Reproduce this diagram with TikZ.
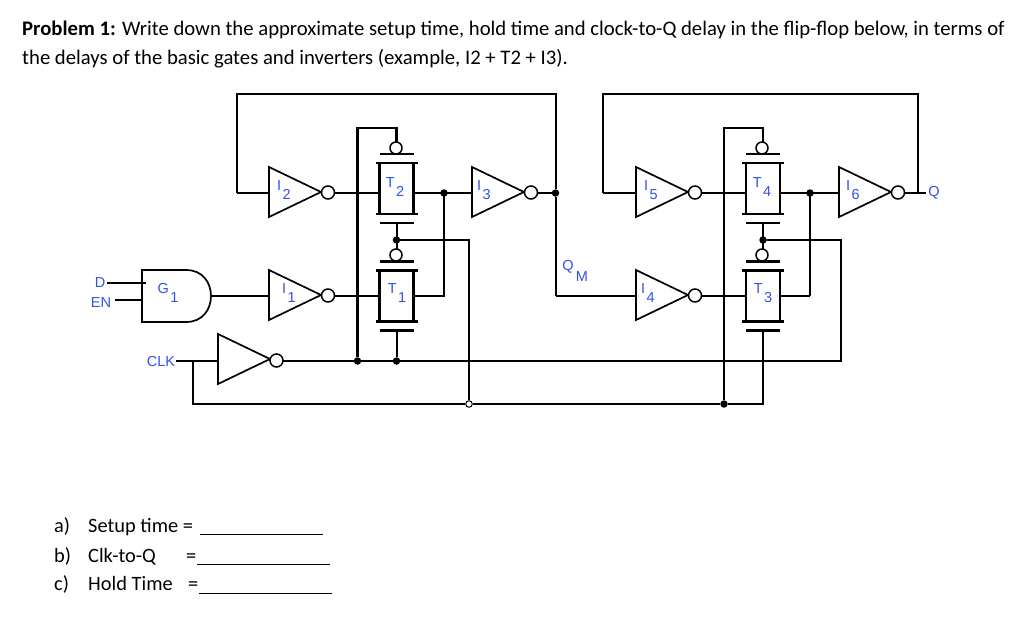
\documentclass[tikz,border=0pt]{standalone}
\usepackage{fontspec}
\setmainfont{Carlito}
\newfontfamily\labfont{Liberation Sans}
\definecolor{labblue}{RGB}{50,80,235}
\newcommand{\sublab}[2]{#1\hspace{1.5pt}\raisebox{-8.5pt}{#2}}
\tikzset{
  wire/.style={line width=2pt,line join=miter},
  hwire/.style={line width=2.6pt,line join=miter},
  gatebody/.style={line width=1.7pt,line join=miter},
  plate/.style={line width=2.2pt},
  bubble/.style={circle,draw,line width=1.5pt,fill=white,minimum size=13pt,inner sep=0pt},
  gatebubble/.style={circle,draw,line width=1.5pt,fill=white,minimum size=12pt,inner sep=0pt},
  jdot/.style={circle,fill=black,minimum size=7.5pt,inner sep=0pt},
  jopen/.style={circle,draw,line width=1pt,fill=white,minimum size=6.5pt,inner sep=0pt},
  lab/.style={font=\labfont\fontsize{14.5}{15}\selectfont,text=labblue,inner sep=0pt},
  body/.style={font=\fontsize{20.7}{24}\selectfont,inner sep=0pt,anchor=base west},
  ans/.style={font=\fontsize{20.4}{24}\selectfont,inner sep=0pt,anchor=base west},
  inv/.pic={\draw[gatebody,fill=white] (0,-25) -- (52,0) -- (0,25) -- cycle;},
  tgate/.pic={
    \draw[plate] (-17,-25.5) -- (-17,25.5) (17,-25.5) -- (17,25.5);
    \draw[plate] (-21,-25.5) -- (21,-25.5) (-21,25.5) -- (21,25.5);
    \draw[plate] (-17,-34.5) -- (17,-34.5) (-17,34.5) -- (17,34.5);
  }
}
\begin{document}
\begin{tikzpicture}[x=1pt,y=-1pt]
\useasboundingbox (0,0) rectangle (1024,621);
% heading
\node[body] at (22,35) {\textbf{Problem 1:} Write down the approximate setup time, hold time and clock-to-Q delay in the flip-flop below, in terms of};
\node[body] at (22,64) {the delays of the basic gates and inverters (example, I2 + T2 + I3).};
% named points
\coordinate (i2) at (269,192);
\coordinate (i1) at (269,295);
\coordinate (i3) at (472,192);
\coordinate (i4) at (636,295);
\coordinate (i5) at (636,192);
\coordinate (i6) at (839,192);
\coordinate (ck) at (218,359);
\coordinate (t2) at (396.5,188.5);
\coordinate (t1) at (396.5,296);
\coordinate (t4) at (763,188.5);
\coordinate (t3) at (763,296);
% junctions and bubbles
\node[jdot] (jclkA) at (357.5,361) {};
\node[jdot] (jclkB) at (396.5,361) {};
\node[jdot] (jT12) at (396.5,240) {};
\node[jdot] (jT34) at (763,240) {};
\node[jdot] (jT2o) at (444,193) {};
\node[jdot] (jI3o) at (555.5,193) {};
\node[jdot] (jT4o) at (810,193) {};
\node[jdot] (jnck) at (724,404) {};
\node[jopen] (jock) at (469,404) {};
\coordinate (topL) at (237,94);
\coordinate (topR) at (555.5,94);
\coordinate (toptR) at (918,94);
\coordinate (toptL) at (603,94);
% wires (thin)
\draw[wire] (237,193) -- (topL) -- (topR) -- (jI3o) -- (555.5,296);
\draw[wire] (335,193) -- (379,193);
\draw[wire] (414,193) -- (472,193);
\draw[wire] (537,193) -- (jI3o);
\draw[wire] (jT12) -- (469,240) -- (jock);
\draw[wire] (176,361) -- (218,361);
\draw[wire] (283,361) -- (840.5,361) -- (840.5,240) -- (jT34);
\draw[wire] (192.5,361) -- (192.5,404) -- (jock) -- (jnck) -- (763,404) -- (763,331);
\draw[wire] (jnck) -- (724,128) -- (763,128) -- (763,142);
\draw[wire] (702,193) -- (746,193);
\draw[wire] (780,193) -- (839,193);
\draw[wire] (810,193) -- (810,296);
\draw[wire] (107,283) -- (146,283);
\draw[wire] (115,300) -- (142,300);
\draw[wire] (jclkB) -- (396.5,331);
\draw[wire] (396.5,223) -- (396.5,249);
\draw[wire] (763,223) -- (763,249);
% heavier wires
\draw[hwire] (jclkA) -- (357.5,128) -- (396.5,128) -- (396.5,142);
\draw[hwire] (444,193) -- (444,296) -- (414,296);
\draw[hwire] (555.5,296) -- (636,296);
\draw[hwire] (603,193) -- (636,193);
\draw[hwire] (603,193) -- (toptL) -- (toptR) -- (918,193);
\draw[hwire] (905,193) -- (926,193);
\draw[hwire] (237,193) -- (269,193);
\draw[hwire] (211,296) -- (269,296);
\draw[hwire] (335,296) -- (379,296);
\draw[hwire] (702,296) -- (746,296);
\draw[hwire] (780,296) -- (810,296);
% G1
\draw[hwire] (186,270) -- (142,270) -- (142,322) -- (186,322);
\draw[gatebody] (186,270) .. controls (203,270) and (211,283) .. (211,296) .. controls (211,309) and (203,322) .. (186,322);
% inverters
\pic at (i2) {inv};
\pic at (i1) {inv};
\pic at (i3) {inv};
\pic at (i4) {inv};
\pic at (i5) {inv};
\pic at (i6) {inv};
\pic at (ck) {inv};
\node[bubble] (b2) at (328,192.5) {};
\node[bubble] (b1) at (328,295.5) {};
\node[bubble] (b3) at (531,192.5) {};
\node[bubble] (b4) at (695,295.5) {};
\node[bubble] (b5) at (695,192.5) {};
\node[bubble] (b6) at (898,192.5) {};
\node[bubble] (bc) at (276.5,360.5) {};
% transmission gates
\pic at (t2) {tgate};
\pic at (t1) {tgate};
\pic at (t4) {tgate};
\pic at (t3) {tgate};
\node[gatebubble] (g2) at (396,148) {};
\node[gatebubble] (g1) at (396,255) {};
\node[gatebubble] (g4) at (762,148) {};
\node[gatebubble] (g3) at (762,255) {};
% labels
\node[lab] (lI2) at (284,190) {\sublab{I}{2}};
\node[lab] (lI1) at (289,293) {\sublab{I}{1}};
\node[lab] (lI3) at (484,190) {\sublab{I}{3}};
\node[lab] (lI4) at (648,293) {\sublab{I}{4}};
\node[lab] (lI5) at (651,190) {\sublab{I}{5}};
\node[lab] (lI6) at (853,190) {\sublab{I}{6}};
\node[lab] (lT2) at (395,187) {\sublab{T}{2}};
\node[lab] (lT1) at (397,293) {\sublab{T}{1}};
\node[lab] (lT4) at (762,187) {\sublab{T}{4}};
\node[lab] (lT3) at (763,293) {\sublab{T}{3}};
\node[lab] (lG) at (168,293) {\sublab{G}{1}};
\node[lab] (lD) at (100,283) {D};
\node[lab] (lEN) at (101,303) {EN};
\node[lab] (lCLK) at (161,362) {CLK};
\node[lab] (lQM) at (568,267) {Q};
\node[lab] (lM) at (582,277) {M};
\node[lab] (lQ) at (934,193) {Q};
% answers
\node[ans] (qa) at (54,532) {a)};
\node[ans] (qa2) at (88,532) {Setup time =};
\node[ans] (qb) at (54,562) {b)};
\node[ans] (qb2) at (88,562) {Clk-to-Q};
\node[ans] (qbe) at (186,562) {=};
\node[ans] (qc) at (54,590) {c)};
\node[ans] (qc2) at (88,590) {Hold Time};
\node[ans] (qce) at (188,590) {=};
\draw[line width=1.2pt] (200,534.5) -- (323,534.5);
\draw[line width=1.2pt] (197,564.5) -- (330,564.5);
\draw[line width=1.2pt] (199,593.5) -- (332,593.5);
\end{tikzpicture}
\end{document}
